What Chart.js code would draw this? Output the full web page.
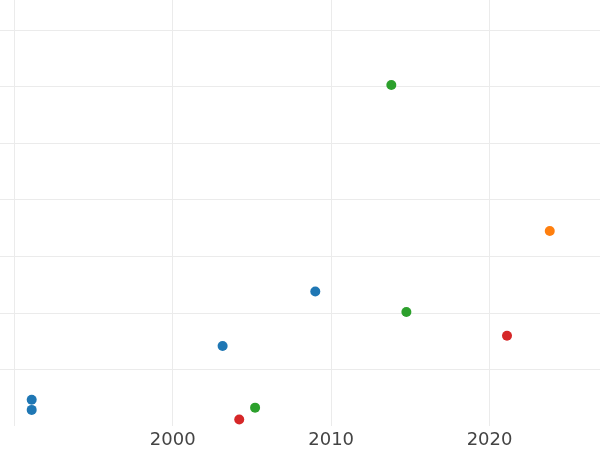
<!DOCTYPE html>
<html>
<head>
<meta charset="utf-8">
<script src="https://cdn.jsdelivr.net/npm/chart.js@4"></script>
<style>
  html, body { margin: 0; padding: 0; background: #fff; }
  #wrap { width: 600px; height: 450px; }
</style>
</head>
<body>
<div id="wrap"><canvas id="chart"></canvas></div>
<script>
// 各颜色一组点：年份 / 数值
const blueYears = [1991.1, 1991.1, 2003.15, 2009.0];
const blueValues = [0.47, 0.29, 1.42, 2.38];
const orangeYears = [2023.8];
const orangeValues = [3.45];
const greenYears = [2013.8, 2014.75, 2005.2];
const greenValues = [6.03, 2.02, 0.33];
const redYears = [2021.1, 2004.2];
const redValues = [1.6, 0.12];

const xTicks = [1990, 2000, 2010, 2020];

function toPoints(xs, ys) {
  return xs.map((x, i) => ({ x: x, y: ys[i] }));
}

function makeSet(xs, ys, color) {
  return {
    data: toPoints(xs, ys),
    backgroundColor: color,
    borderColor: color,
    pointRadius: 5,
    pointHoverRadius: 5,
    borderWidth: 0
  };
}

const gridColor = '#ebebeb';

new Chart(document.getElementById('chart').getContext('2d'), {
  type: 'scatter',
  data: {
    datasets: [
      makeSet(blueYears, blueValues, '#1f77b4'),
      makeSet(orangeYears, orangeValues, '#ff7f0e'),
      makeSet(greenYears, greenValues, '#2ca02c'),
      makeSet(redYears, redValues, '#d62728')
    ]
  },
  options: {
    responsive: true,
    maintainAspectRatio: false,
    animation: false,
    layout: { padding: { left: 0, right: 0, top: 0, bottom: -4 }, autoPadding: false },
    plugins: { legend: { display: false }, tooltip: { enabled: false } },
    scales: {
      x: {
        type: 'linear',
        min: 1989.1,
        max: 2026.97,
        grid: { color: gridColor, drawTicks: false },
        border: { display: false },
        ticks: {
          stepSize: 10,
          includeBounds: false,
          maxRotation: 0,
          autoSkip: false,
          padding: 8,
          color: '#444',
          font: { family: 'DejaVu Sans', size: 18, lineHeight: 0.68 },
          // 1990 的标签会被裁掉，只留网格线
          callback: (v) => (xTicks.indexOf(v) > 0 ? String(v) : '')
        }
      },
      y: {
        min: 0.01,
        max: 7.53,
        grid: { color: gridColor, drawTicks: false },
        border: { display: false },
        ticks: { display: false, stepSize: 1, includeBounds: false }
      }
    }
  }
});
</script>
</body>
</html>
